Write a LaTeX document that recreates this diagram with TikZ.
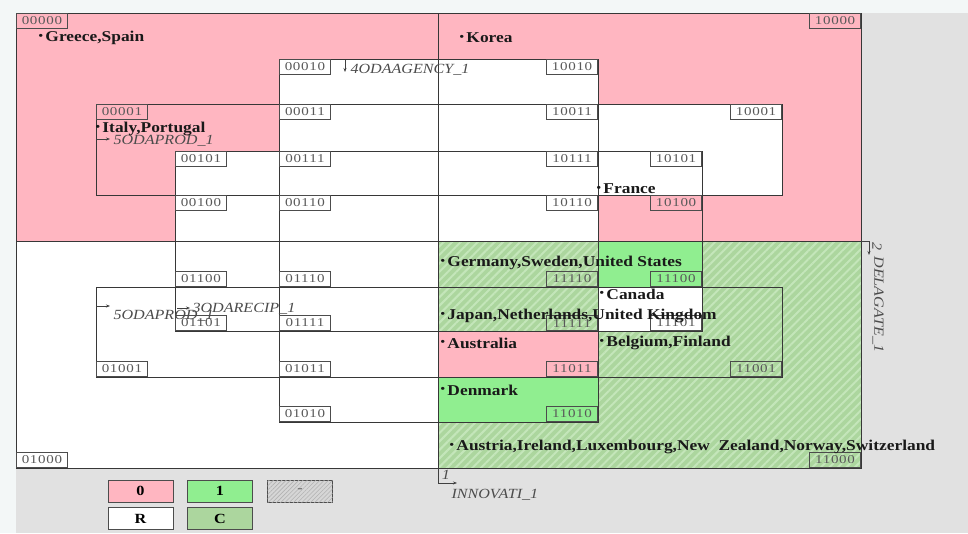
\documentclass[tikz,border=0pt]{standalone}
\usepackage{fontspec}
\setmainfont{Liberation Serif}
\newfontfamily\casefont[FakeStretch=1.16]{Liberation Serif}
\newfontfamily\codefont[FakeStretch=1.25,LetterSpace=6]{Liberation Serif}
\newfontfamily\varfont[FakeStretch=1.15]{Liberation Serif}
\usepackage{xcolor}
\usepackage{tikz}
\usetikzlibrary{positioning,arrows.meta,patterns.meta}
\definecolor{zeropink}{RGB}{255,182,193}
\definecolor{onegreen}{RGB}{144,238,144}
\definecolor{contragreen}{RGB}{172,214,158}
\definecolor{contrastripe}{RGB}{196,230,186}
\definecolor{dontgray}{RGB}{214,214,214}
\definecolor{paneback}{RGB}{225,225,225}
\definecolor{pageback}{RGB}{243,247,247}
\definecolor{frameline}{RGB}{55,55,55}
\newcommand{\caselbl}[1]{\raisebox{2.5pt}{\fontsize{11}{11}\selectfont\textbullet}\,#1}

\begin{document}
\begin{tikzpicture}[
    x=1pt, y=-1pt,
    line width=1pt,
    >={Stealth[length=4pt,width=3pt]},
    every node/.style={inner sep=0pt},
    cell/.style={
        draw=frameline,
        line width=1pt
    },
    code/.style={
        rectangle,
        draw=black!70,
        line width=0.9pt,
        minimum width=51pt,
        minimum height=15pt,
        text=black!65,
        font=\codefont\fontsize{12}{12}\selectfont
    },
    case/.style={
        anchor=west,
        text=black!90,
        font=\casefont\bfseries\fontsize{15}{15}\selectfont
    },
    varlbl/.style={
        text=black!70,
        font=\varfont\itshape\fontsize{14}{14}\selectfont
    },
    varmark/.style={
        draw=black!75,
        line width=0.7pt,
        ->
    },
    contra/.style={
        fill=contragreen,
        postaction={pattern={Lines[angle=45,distance=6pt,line width=2pt]}, pattern color=contrastripe}
    },
    legend/.style={
        rectangle,
        draw=black!70,
        line width=1pt,
        minimum width=65pt,
        minimum height=22pt,
        fill=#1,
        font=\casefont\bfseries\fontsize{14}{14}\selectfont
    },
]

\useasboundingbox (0,0) rectangle (968,533);
\fill[pageback] (0,0) rectangle (968,533);
\fill[paneback] (16,13) rectangle (968,533);
\fill[white] (16,13) rectangle (861,468);

\fill[zeropink] (16,13) rectangle (861,241);
\fill[white] (279,59) rectangle (598,241);
\fill[white] (175,151) rectangle (438,241);
\fill[white] (438,104) rectangle (782,195);

\fill[contra] (438,241) rectangle (861,468);
\fill[onegreen] (598,241) rectangle (702,287);
\fill[white] (598,287) rectangle (702,331);
\fill[zeropink] (438,331) rectangle (598,377);
\fill[onegreen] (438,377) rectangle (598,422);

\draw[cell] (16,13) rectangle (861,468);
\draw[cell] (279,59) rectangle (598,422);
\draw[cell] (175,151) rectangle (702,331);
\draw[cell] (96,104) rectangle (782,195);
\draw[cell] (96,287) rectangle (782,377);
\draw[cell] (438,13) -- (438,468);
\draw[cell] (16,241) -- (861,241);

\node[code, anchor=north west] (c00000) at (16,13)  {00000};
\node[code, anchor=north west] (c00010) at (279,59) {00010};
\node[code, anchor=north west] (c00001) at (96,104) {00001};
\node[code, anchor=north west] (c00011) at (279,104) {00011};
\node[code, anchor=north west] (c00101) at (175,151) {00101};
\node[code, anchor=north west] (c00111) at (279,151) {00111};
\node[code, anchor=north west] (c00100) at (175,195) {00100};
\node[code, anchor=north west] (c00110) at (279,195) {00110};

\node[code, anchor=north east] (c10000) at (861,13)  {10000};
\node[code, anchor=north east] (c10010) at (598,59)  {10010};
\node[code, anchor=north east] (c10001) at (782,104) {10001};
\node[code, anchor=north east] (c10011) at (598,104) {10011};
\node[code, anchor=north east] (c10101) at (702,151) {10101};
\node[code, anchor=north east] (c10111) at (598,151) {10111};
\node[code, anchor=north east] (c10100) at (702,195) {10100};
\node[code, anchor=north east] (c10110) at (598,195) {10110};

\node[code, anchor=south west] (c01000) at (16,468)  {01000};
\node[code, anchor=south west] (c01010) at (279,422) {01010};
\node[code, anchor=south west] (c01001) at (96,377)  {01001};
\node[code, anchor=south west] (c01011) at (279,377) {01011};
\node[code, anchor=south west] (c01101) at (175,331) {01101};
\node[code, anchor=south west] (c01111) at (279,331) {01111};
\node[code, anchor=south west] (c01100) at (175,287) {01100};
\node[code, anchor=south west] (c01110) at (279,287) {01110};

\node[code, anchor=south east] (c11000) at (861,468) {11000};
\node[code, anchor=south east] (c11010) at (598,422) {11010};
\node[code, anchor=south east] (c11001) at (782,377) {11001};
\node[code, anchor=south east] (c11011) at (598,377) {11011};
\node[code, anchor=south east] (c11101) at (702,331) {11101};
\node[code, anchor=south east] (c11111) at (598,331) {11111};
\node[code, anchor=south east] (c11100) at (702,287) {11100};
\node[code, anchor=south east] (c11110) at (598,287) {11110};

\node[varlbl, anchor=west] (agency) at (350,70) {4ODAAGENCY\_1};
\draw[varmark] (345,60) -- (345,72);
\node[varlbl, anchor=west] (prodtop) at (113,141) {5ODAPROD\_1};
\draw[varmark] (96,139) -- (110,139);
\node[varlbl, anchor=west] (prodbot) at (113,316) {5ODAPROD\_1};
\draw[varmark] (96,306) -- (110,306);
\node[varlbl, anchor=west] (recip) at (192,309) {3ODARECIP\_1};
\draw[varmark] (177,308) -- (190,308);
\node[varlbl] (innovnum) at (446,475) {1};
\node[varlbl, anchor=west] (innov) at (451,495) {INNOVATI\_1};
\draw[varmark] (438,468) |- (457,483);
\node[varlbl, rotate=-90] (delagnum) at (877,247) {2};
\node[varlbl, rotate=-90, anchor=west] (delag) at (878,256) {DELAGATE\_1};
\draw[varmark] (861,241) -| (869,255);

\node[case] (greece)    at (38,38)   {\caselbl{Greece,Spain}};
\node[case] (korea)     at (459,38)  {\caselbl{Korea}};
\node[case] (italy)     at (95,129)  {\caselbl{Italy,Portugal}};
\node[case] (france)    at (596,189) {\caselbl{France}};
\node[case] (germany)   at (440,263) {\caselbl{Germany,Sweden,United States}};
\node[case] (canada)    at (599,294) {\caselbl{Canada}};
\node[case] (japan)     at (440,316) {\caselbl{Japan,Netherlands,United Kingdom}};
\node[case] (australia) at (440,343) {\caselbl{Australia}};
\node[case] (belgium)   at (599,343) {\caselbl{Belgium,Finland}};
\node[case] (denmark)   at (440,390) {\caselbl{Denmark}};
\node[case] (austria)   at (449,447) {\caselbl{Austria,Ireland,Luxembourg,New\ \ Zealand,Norway,Switzerland}};

\node[legend=zeropink]    (lzero) at (140.5,491) {0};
\node[legend=onegreen]    (lone)  at (220,491)   {1};
\node[legend=dontgray, text=black!55,
      postaction={pattern={Lines[angle=45,distance=3pt,line width=0.6pt]}, pattern color=black!30}]
                          (ldont) at (300,491)   {-};
\node[legend=white]       (lrem)  at (140.5,518.5) {R};
\node[legend=contragreen] (lcon)  at (220,518.5) {C};

\end{tikzpicture}
\end{document}
